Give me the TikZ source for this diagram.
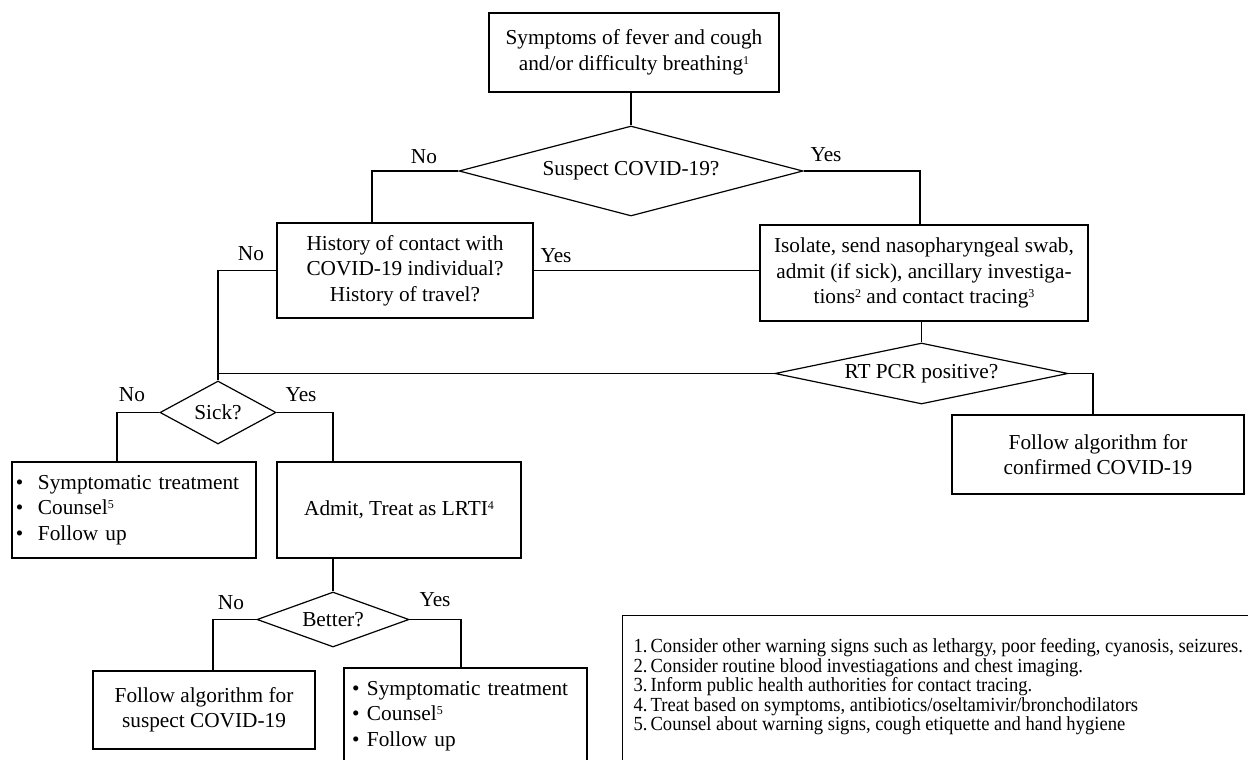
\documentclass[tikz,border=0pt]{standalone}
\usepackage{fontspec}
\setmainfont{Liberation Serif}
\newfontfamily\notefont[FakeStretch=0.93]{Liberation Serif}
\newcommand{\smallsup}[1]{\raisebox{0.62ex}{\fontsize{12}{12}\selectfont #1}}
\usetikzlibrary{shapes.geometric,calc}
\begin{document}
\begin{tikzpicture}[x=1pt,y=-1pt,line width=1.2pt,
  every node/.style={font=\fontsize{21.3}{25.5}\selectfont},
  box/.style={draw,rectangle,inner sep=0pt,align=center},
  dia/.style={draw,diamond,inner sep=0pt},
  lbl/.style={inner sep=0pt},
  bul/.style={draw,rectangle,inner ysep=0pt,align=left}]
\useasboundingbox (0,0) rectangle (1248,760);
\clip (0,0) rectangle (1248,760);
\fill[white] (0,0) rectangle (1248,760);

% nodes
\node[box,minimum width=290pt,minimum height=79pt] (top) at (634,52.5)
  {Symptoms of fever and cough\\and/or difficulty breathing\smallsup{1}};
\node[dia,minimum width=344pt,minimum height=90pt,aspect=3.8] (suspect) at (631,171) {Suspect COVID-19?};
\node[box,minimum width=256pt,minimum height=95pt] (contact) at (405,270.5)
  {History of contact with\\COVID-19 individual?\\History of travel?};
\node[box,minimum width=328pt,minimum height=96pt] (iso) at (924,273)
  {Isolate, send nasopharyngeal swab,\\admit (if sick), ancillary investiga-\\tions\smallsup{2} and contact tracing\smallsup{3}};
\node[dia,minimum width=293pt,minimum height=61pt,aspect=4.8] (rt) at (921.5,373.5) {RT PCR positive?};
\node[box,minimum width=292pt,minimum height=79pt] (conf) at (1098,454.5)
  {Follow algorithm for\\confirmed COVID-19};
\node[dia,minimum width=116pt,minimum height=63pt,aspect=1.84] (sick) at (218,412.5) {Sick?};
\node[bul,inner xsep=4pt,text width=236pt,minimum height=96pt] (symp) at (134,510)
  {\makebox[22pt][l]{\textbullet}Symptomatic treatment\\
   \makebox[22pt][l]{\textbullet}Counsel\smallsup{5}\\
   \makebox[22pt][l]{\textbullet}Follow up};
\node[box,minimum width=244pt,minimum height=96pt] (admit) at (399,510)
  {Admit, Treat as LRTI\smallsup{4}};
\node[dia,minimum width=152pt,minimum height=55pt,aspect=2.76] (better) at (333,619.5) {Better?};
\node[box,minimum width=222pt,minimum height=78pt] (susp) at (204,710)
  {Follow algorithm for\\suspect COVID-19};
\node[bul,inner xsep=8pt,text width=227pt,minimum height=96pt] (symp2) at (465.5,716)
  {\makebox[15pt][l]{\textbullet}Symptomatic treatment\\
   \makebox[15pt][l]{\textbullet}Counsel\smallsup{5}\\
   \makebox[15pt][l]{\textbullet}Follow up};

% legend
\node[draw,rectangle,anchor=north west,minimum width=700pt,minimum height=200pt,inner sep=0pt] (legend) at (622,615) {};
\node[anchor=north west,align=left,inner sep=0pt,font=\notefont\fontsize{20}{19.5}\selectfont] (notes) at (633,638)
  {\makebox[17pt][l]{1.}Consider other warning signs such as lethargy, poor feeding, cyanosis, seizures.\\
   \makebox[17pt][l]{2.}Consider routine blood investiagations and chest imaging.\\
   \makebox[17pt][l]{3.}Inform public health authorities for contact tracing.\\
   \makebox[17pt][l]{4.}Treat based on symptoms, antibiotics/oseltamivir/bronchodilators\\
   \makebox[17pt][l]{5.}Counsel about warning signs, cough etiquette and hand hygiene};

% labels
\node[lbl] (no1) at (424,157) {No};
\node[lbl] (yes1) at (826,155) {Yes};
\node[lbl] (no2) at (251,254) {No};
\node[lbl] (yes2) at (556,256) {Yes};
\node[lbl] (no3) at (132,395) {No};
\node[lbl] (yes3) at (301,395) {Yes};
\node[lbl] (no4) at (231,603) {No};
\node[lbl] (yes4) at (435,600) {Yes};

% branch coordinates
\coordinate (xa) at (372,0);
\coordinate (xb) at (920,0);
\coordinate (xc) at (1093,0);
\coordinate (xd) at (117,0);
\coordinate (xe) at (333,0);
\coordinate (xf) at (213,0);
\coordinate (xg) at (461,0);

% connectors
\draw (top.south -| suspect.north) -- (suspect.north);
\draw (suspect.west) -| (xa |- contact.north);
\draw (suspect.east) -| (xb |- iso.north);
\draw (contact.east) -- (contact.east -| iso.west);
\draw (contact.west) -| (sick.north);
\draw (sick.north |- rt.west) -- (rt.west);
\draw (rt.north |- iso.south) -- (rt.north);
\draw (rt.east) -| (xc |- conf.north);
\draw (sick.west) -| (xd |- symp.north);
\draw (sick.east) -| (xe |- admit.north);
\draw (better.north |- admit.south) -- (better.north);
\draw (better.west) -| (xf |- susp.north);
\draw (better.east) -| (xg |- symp2.north);
\end{tikzpicture}
\end{document}
